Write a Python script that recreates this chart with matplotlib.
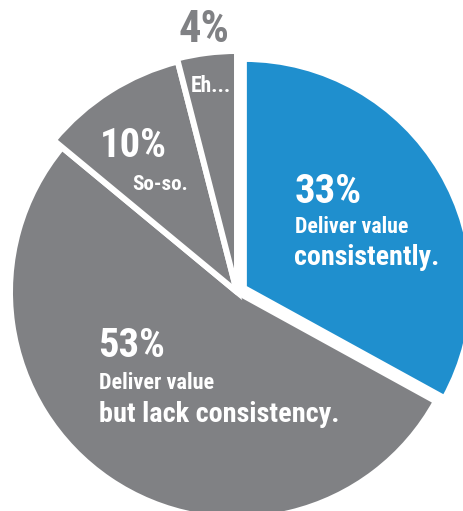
import matplotlib
matplotlib.use("Agg")
import matplotlib.pyplot as plt
from matplotlib import font_manager as fm
import os

# Data
shares = [33, 53, 10, 4]
pct_labels = ["33%", "53%", "10%", "4%"]
desc_labels = [["Deliver value", "consistently."],
               ["Deliver value", "but lack consistency."],
               ["So-so."],
               ["Eh..."]]

BLUE = "#1F8FCE"
GRAY = "#808184"
colors = [BLUE, GRAY, GRAY, GRAY]

W, H = 463, 511
fig = plt.figure(figsize=(W / 100, H / 100), dpi=100)
ax = fig.add_axes([0, 0, 1, 1])

cx, cy = 237, H - 292
base_r = 227
radii = [229, 227, 238, 241]
explode = [8, 0, 0, 0]

wedges, _ = ax.pie(shares, colors=colors, startangle=90, counterclock=False,
                   center=(cx, cy), radius=base_r, explode=explode,
                   wedgeprops=dict(edgecolor="white", linewidth=4.3))
for w, r in zip(wedges, radii):
    w.set_radius(r)

ax.set_xlim(0, W)
ax.set_ylim(0, H)
ax.set_aspect("auto")
ax.axis("off")

# pick a condensed bold font if one is installed
files = fm.findSystemFonts()
prefs = ["LiberationSansNarrow-Bold", "RobotoCondensed-Bold", "OpenSansCondensed-Bold",
         "OpenSans_Condensed-Bold", "DejaVuSansCondensed-Bold", "NotoSansDisplay-CondensedBold",
         "NotoSans-CondensedBold"]
chosen = None
for p in prefs:
    for f in files:
        if os.path.basename(f).lower().startswith(p.lower()):
            chosen = f
            break
    if chosen:
        break
if chosen is None:
    for f in files:
        b = os.path.basename(f).lower()
        if ("condensed" in b or "narrow" in b) and "bold" in b and "italic" not in b and "oblique" not in b:
            chosen = f
            break
if chosen:
    FP = fm.FontProperties(fname=chosen)
else:
    FP = fm.FontProperties(family="DejaVu Sans", weight="bold", stretch="condensed")

texts = []

def txt(x, ybase, s, width, color="white"):
    t = ax.text(x, H - ybase, s, fontproperties=FP.copy(), fontsize=20, color=color,
                ha="left", va="baseline")
    texts.append((t, width))

# 33% blue slice
txt(295, 203, pct_labels[0], 67)
txt(295, 233, desc_labels[0][0], 113)
txt(294, 265, desc_labels[0][1], 145)
# 53% slice
txt(98, 357, pct_labels[1], 67)
txt(99, 389, desc_labels[1][0], 115)
txt(99, 422, desc_labels[1][1], 240)
# 10% slice
txt(100, 157, pct_labels[2], 67)
txt(132, 190, desc_labels[2][0], 56)
# 4% slice
txt(178, 42, pct_labels[3], 51, color=GRAY)
txt(191, 92, desc_labels[3][0], 40)

fig.canvas.draw()
r = fig.canvas.get_renderer()
for t, wd in texts:
    bb = t.get_window_extent(renderer=r)
    t.set_fontsize(20 * wd / bb.width)

fig.savefig("out.png", dpi=100)
